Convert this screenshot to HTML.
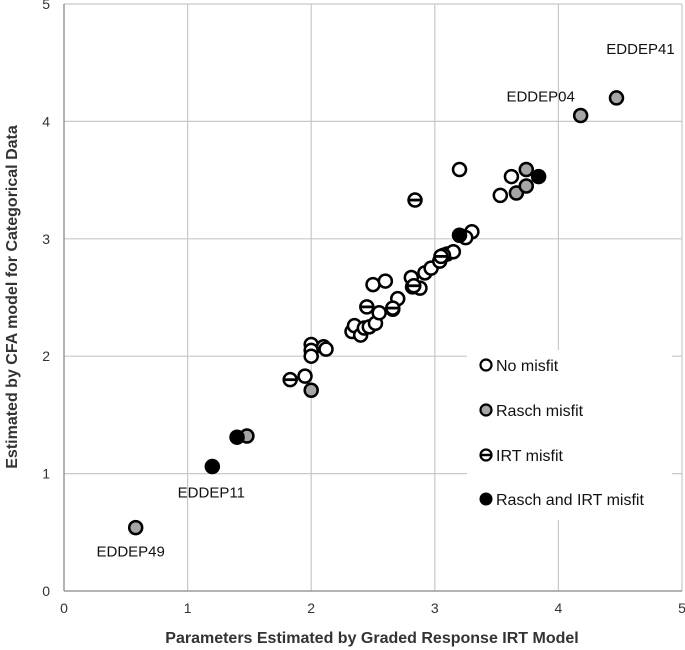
<!DOCTYPE html>
<html><head><meta charset="utf-8"><style>
body{margin:0;background:#fff;}
svg{display:block;font-family:"Liberation Sans",sans-serif;}
</style></head><body>
<svg id="chart" width="685" height="650">
<g id="grid"></g>
<g id="axes"></g>
<g id="pts"></g>
<g id="lbls"></g>
<text x="372" y="643" text-anchor="middle" font-size="16" font-weight="bold" fill="#333">Parameters Estimated by Graded Response IRT Model</text>
<text transform="translate(17,297) rotate(-90)" text-anchor="middle" font-size="16" font-weight="bold" fill="#333">Estimated by CFA model for Categorical Data</text>
<g>
<rect x="467" y="350" width="205" height="170" fill="#fff"/>
<g><circle cx="486" cy="365" r="5.5" fill="#fff" stroke="#000" stroke-width="2.2"/><text x="496" y="371" font-size="16" fill="#111">No misfit</text></g>
<g><circle cx="486" cy="410" r="5.5" fill="#a6a6a6" stroke="#000" stroke-width="2.2"/><text x="496" y="416" font-size="16" fill="#111">Rasch misfit</text></g>
<g><circle cx="486" cy="455" r="5.5" fill="#fff" stroke="#000" stroke-width="2.2"/><line x1="480" y1="455" x2="492" y2="455" stroke="#000" stroke-width="2.5"/><text x="496" y="461" font-size="16" fill="#111">IRT misfit</text></g>
<g><circle cx="486" cy="499" r="6.5" fill="#000"/><text x="496" y="505" font-size="16" fill="#111">Rasch and IRT misfit</text></g>
</g>
</svg>
<script>
const xTicks=[0,1,2,3,4,5];
const yTicks=[0,1,2,3,4,5];
const noMisfitX=[3.2,3.62,3.53,3.3,2.5,2.6,2.0,2.0,2.0,2.1,2.12,1.95,2.33,2.35,2.4,2.43,2.47,2.52,2.55,2.66,2.7,2.81,2.82,2.88,2.92,2.97,3.04,3.1,3.15,3.07,3.25];
const noMisfitY=[3.59,3.53,3.37,3.06,2.61,2.64,2.1,2.05,2.0,2.08,2.06,1.83,2.21,2.26,2.18,2.24,2.25,2.28,2.37,2.4,2.49,2.67,2.59,2.58,2.71,2.75,2.81,2.87,2.89,2.86,3.01];
const raschX=[0.58,1.48,2.0,3.66,3.74,3.74,4.18,4.47];
const raschY=[0.54,1.32,1.71,3.39,3.45,3.59,4.05,4.2];
const irtX=[2.84,1.83,2.45,2.83,3.05,2.66];
const irtY=[3.33,1.8,2.42,2.6,2.85,2.41];
const bothX=[1.2,1.4,3.2,3.84];
const bothY=[1.06,1.31,3.03,3.53];
const labelText=["EDDEP41","EDDEP04","EDDEP11","EDDEP49"];
const labelX=[4.47,4.18,1.2,0.58];
const labelY=[4.2,4.05,1.06,0.54];
const NS="http://www.w3.org/2000/svg";
const X0=64,X1=682,Y0=591,Y1=4;
const sx=v=>X0+(X1-X0)*v/5, sy=v=>Y0-(Y0-Y1)*v/5;
function mk(t,a,p){const e=document.createElementNS(NS,t);for(const k in a)e.setAttribute(k,a[k]);p.appendChild(e);return e;}
const grid=document.getElementById('grid'),axes=document.getElementById('axes');
xTicks.forEach(v=>{if(v>0){const l=mk('line',{x1:sx(v),x2:sx(v),y1:Y1,y2:Y0,stroke:'#c8c8c8','stroke-width':1.2},grid);

}
const t=mk('text',{x:sx(v),y:Y0+22,'text-anchor':'middle','font-size':14,fill:'#333'},axes);t.textContent=v;

});
yTicks.forEach(v=>{if(v>0){const l=mk('line',{x1:X0,x2:X1,y1:sy(v),y2:sy(v),stroke:'#c8c8c8','stroke-width':1.2},grid);

}
const t=mk('text',{x:X0-14,y:sy(v)+5,'text-anchor':'end','font-size':14,fill:'#333'},axes);t.textContent=v;

});
mk('line',{x1:X0,x2:X1,y1:Y0,y2:Y0,stroke:'#888','stroke-width':1.3},axes);
mk('line',{x1:X0,x2:X0,y1:Y1,y2:Y0,stroke:'#888','stroke-width':1.3},axes);
const pts=document.getElementById('pts');
function dot(x,y,fill,name,bar){const c=mk('circle',{cx:sx(x),cy:sy(y),r:6.5,fill:fill,stroke:'#000','stroke-width':2.5},pts);


if(bar)mk('line',{x1:sx(x)-6,x2:sx(x)+6,y1:sy(y),y2:sy(y),stroke:'#000','stroke-width':2.8},pts);}
noMisfitX.forEach((x,i)=>dot(x,noMisfitY[i],'#fff','point-no-misfit',false));
irtX.forEach((x,i)=>dot(x,irtY[i],'#fff','point-irt-misfit',true));
raschX.forEach((x,i)=>dot(x,raschY[i],'#a6a6a6','point-rasch-misfit',false));
bothX.forEach((x,i)=>dot(x,bothY[i],'#000','point-rasch-and-irt-misfit',false));
const lbls=document.getElementById('lbls');
const off=[[24,-44],[-40,-14],[-1,31],[-5,29]];
labelText.forEach((s,i)=>{const t=mk('text',{x:sx(labelX[i])+off[i][0],y:sy(labelY[i])+off[i][1],'text-anchor':'middle','font-size':15,fill:'#111'},lbls);t.textContent=s;

});
</script>
</body></html>
